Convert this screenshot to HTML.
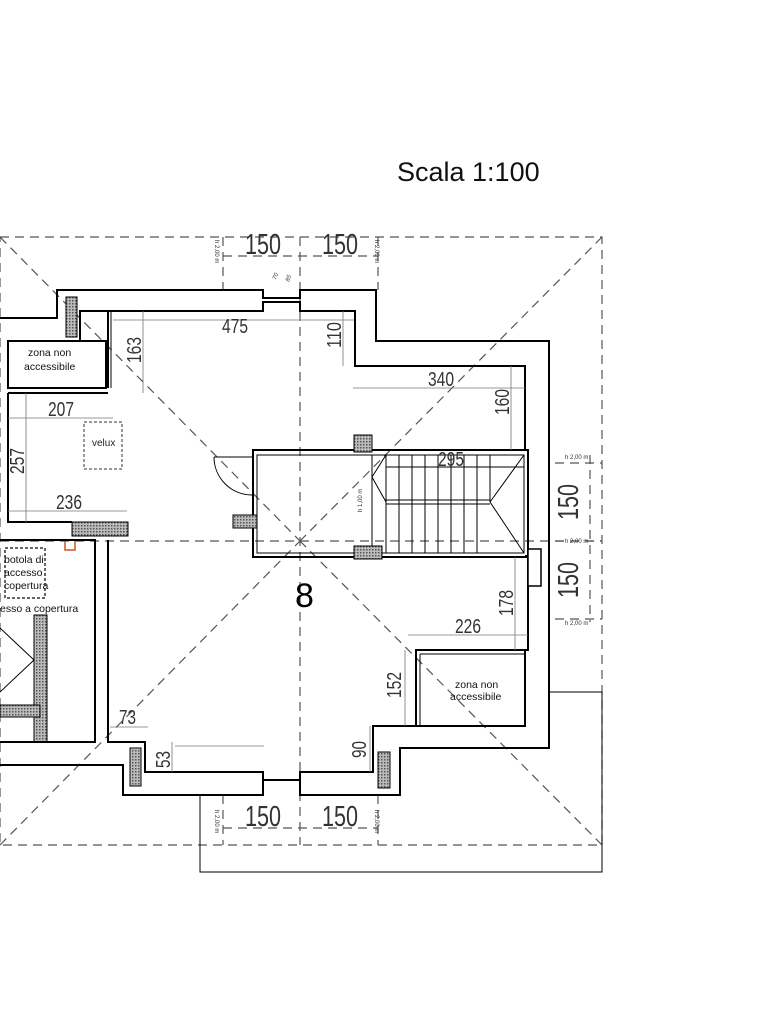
<!DOCTYPE html>
<html><head><meta charset="utf-8"><style>
html,body{margin:0;padding:0;background:#fff;}
svg{display:block;font-family:"Liberation Sans",sans-serif;}
.d{stroke:#555;stroke-width:1.2;stroke-dasharray:9 6;fill:none}
.w{stroke:#000;stroke-width:2;fill:none}
.t{stroke:#000;stroke-width:1;fill:none}
.g{stroke:#777;stroke-width:0.8;fill:none}
.dim{font-family:"Liberation Sans",sans-serif;fill:#333}
</style></head><body>
<svg width="768" height="1024" viewBox="0 0 768 1024">
<defs>
<pattern id="h" width="3" height="3" patternUnits="userSpaceOnUse"><rect width="3" height="3" fill="#bbb"/><rect width="1.5" height="1.5" fill="#555"/></pattern>
</defs>
<text x="397" y="181" font-size="27" fill="#111">Scala 1:100</text>

<rect x="0" y="237" width="602" height="608" class="d"/>
<line x1="0" y1="237" x2="300" y2="541" class="d"/>
<line x1="602" y1="237" x2="300" y2="541" class="d"/>
<line x1="0" y1="845" x2="300" y2="541" class="d"/>
<line x1="602" y1="845" x2="300" y2="541" class="d"/>
<line x1="300" y1="237" x2="300" y2="845" class="d"/>
<line x1="0" y1="541" x2="602" y2="541" class="d"/>
<line x1="223" y1="256" x2="378" y2="256" class="d" stroke-dasharray="4 3"/>
<line x1="223" y1="237" x2="223" y2="290" class="d" stroke-dasharray="5 4"/>
<line x1="378" y1="237" x2="378" y2="290" class="d" stroke-dasharray="5 4"/>
<g class="dim" font-size="29">
<text x="245" y="254" textLength="36" lengthAdjust="spacingAndGlyphs">150</text>
<text x="322" y="254" textLength="36" lengthAdjust="spacingAndGlyphs">150</text>
<text x="245" y="826" textLength="36" lengthAdjust="spacingAndGlyphs">150</text>
<text x="322" y="826" textLength="36" lengthAdjust="spacingAndGlyphs">150</text>
<text transform="translate(578,520) rotate(-90)" textLength="36" lengthAdjust="spacingAndGlyphs">150</text>
<text transform="translate(578,598) rotate(-90)" textLength="36" lengthAdjust="spacingAndGlyphs">150</text>
</g>
<line x1="223" y1="828" x2="378" y2="828" class="d" stroke-dasharray="4 3"/>
<line x1="223" y1="795" x2="223" y2="845" class="d" stroke-dasharray="5 4"/>
<line x1="378" y1="795" x2="378" y2="845" class="d" stroke-dasharray="5 4"/>
<line x1="590" y1="455" x2="590" y2="622" class="d" stroke-dasharray="5 4"/>
<line x1="555" y1="463" x2="602" y2="463" class="d" stroke-dasharray="4 3"/>
<line x1="555" y1="541" x2="602" y2="541" class="d" stroke-dasharray="4 3"/>
<line x1="555" y1="619" x2="602" y2="619" class="d" stroke-dasharray="4 3"/>
<g font-size="6" fill="#333">
<text x="565" y="459">h 2,00 m</text><text x="565" y="543">h 2,00 m</text><text x="565" y="625">h 2,00 m</text>
<text transform="translate(215,240) rotate(90)">h 2,00 m</text>
<text transform="translate(375,240) rotate(90)">h 2,00 m</text>
<text transform="translate(215,810) rotate(90)">h 2,00 m</text>
<text transform="translate(375,810) rotate(90)">h 2,00 m</text>
<text transform="translate(362,512) rotate(-90)">h 1,00 m</text>
<text transform="translate(276,280) rotate(-70)" font-style="italic">70</text>
<text transform="translate(289,282) rotate(-70)" font-style="italic">85</text>
</g>

<polyline points="549,692 602,692 602,872 200,872 200,795" class="t" stroke="#555"/>

<polyline class="w" points="0,318 57,318 57,290 263,290 263,298 300,298 300,290 376,290 376,341 549,341 549,748 400,748 400,795 300,795 300,780 263,780 263,795 123,795 123,765 0,765"/>
<polyline class="w" points="80,341 80,311 263,311 263,302 300,302 300,311 355,311 355,366 525,366 525,450"/>
<line x1="108" y1="311" x2="108" y2="388" class="w"/>
<line x1="111" y1="311" x2="111" y2="388" class="t"/>
<rect x="8" y="341" width="98" height="47" class="w"/>
<polyline class="w" points="8,393 108,393"/>
<polyline class="w" points="8,393 8,522 72,522"/>
<polyline class="w" points="108,540 108,742 145,742 145,772 263,772 263,780"/>
<polyline class="w" points="300,780 300,772 373,772 373,726 416,726"/>
<polyline class="w" points="525,556 528,556 528,650 416,650 416,726 525,726 525,650"/>
<line x1="420" y1="654" x2="420" y2="726" class="t"/>
<line x1="420" y1="654" x2="525" y2="654" class="t"/>
<rect x="253" y="450" width="275" height="107" class="w"/>
<rect x="257" y="455" width="267" height="98" class="t"/>
<rect x="372" y="455" width="152" height="98" class="t"/>
<g class="t" stroke-width="0.8">
<line x1="386" y1="455" x2="386" y2="553"/><line x1="399" y1="455" x2="399" y2="553"/><line x1="412" y1="455" x2="412" y2="553"/>
<line x1="425" y1="455" x2="425" y2="553"/><line x1="438" y1="455" x2="438" y2="553"/><line x1="451" y1="455" x2="451" y2="553"/>
<line x1="464" y1="455" x2="464" y2="553"/><line x1="477" y1="455" x2="477" y2="553"/><line x1="490" y1="455" x2="490" y2="502"/>
<line x1="386" y1="500" x2="490" y2="500"/><line x1="386" y1="504" x2="490" y2="504"/>
<line x1="490" y1="502" x2="524" y2="455"/><line x1="490" y1="502" x2="524" y2="553"/>
<line x1="372" y1="477" x2="386" y2="455"/><line x1="372" y1="477" x2="386" y2="502"/>
<line x1="386" y1="467" x2="524" y2="467"/>
</g>
<path d="M214,457 A38,38 0 0 0 252,495" class="t"/>
<line x1="214" y1="457" x2="252" y2="457" class="t"/>
<g fill="url(#h)" stroke="#000" stroke-width="1">
<rect x="66" y="297" width="11" height="40"/>
<rect x="72" y="522" width="56" height="14"/>
<rect x="233" y="515" width="24" height="13"/>
<rect x="354" y="435" width="18" height="17"/>
<rect x="354" y="546" width="28" height="13"/>
<rect x="130" y="748" width="11" height="38"/>
<rect x="378" y="752" width="12" height="36"/>
<rect x="34" y="615" width="13" height="127"/>
<rect x="0" y="705" width="40" height="12"/>
</g>
<rect x="528" y="549" width="13" height="37" fill="#fff" stroke="#000" stroke-width="1.5"/>
<rect x="65" y="540" width="10" height="10" fill="none" stroke="#c8561a" stroke-width="1.5"/>
<polyline class="w" points="0,540 95,540 95,742 0,742"/>
<polyline class="t" points="0,628 34,660 0,692"/>
<rect x="84" y="422" width="38" height="47" fill="none" stroke="#333" stroke-dasharray="3 2"/>
<text x="92" y="446" font-size="10" fill="#222">velux</text>
<rect x="5" y="548" width="40" height="50" fill="none" stroke="#333" stroke-width="1.5" stroke-dasharray="3 2"/>
<g font-size="10.5" fill="#111">
<text x="4" y="563">botola di</text><text x="4" y="576">accesso</text><text x="4" y="589">copertura</text>
<text x="0" y="612">esso a copertura</text>
<text x="28" y="356">zona non</text><text x="24" y="370">accessibile</text>
<text x="455" y="688">zona non</text><text x="450" y="700">accessibile</text>
</g>
<text x="295" y="607" font-size="34" fill="#000">8</text>
<g class="g">
<line x1="113" y1="320" x2="354" y2="320"/>
<line x1="143" y1="311" x2="143" y2="393"/>
<line x1="343" y1="311" x2="343" y2="366"/>
<line x1="353" y1="388" x2="525" y2="388"/>
<line x1="511" y1="366" x2="511" y2="450"/>
<line x1="8" y1="418" x2="113" y2="418"/>
<line x1="26" y1="393" x2="26" y2="522"/>
<line x1="8" y1="511" x2="127" y2="511"/>
<line x1="515" y1="557" x2="515" y2="650"/>
<line x1="408" y1="635" x2="528" y2="635"/>
<line x1="405" y1="650" x2="405" y2="726"/>
<line x1="110" y1="727" x2="148" y2="727"/>
<line x1="175" y1="746" x2="264" y2="746"/>
<line x1="172" y1="742" x2="172" y2="772"/>
<line x1="370" y1="726" x2="370" y2="772"/>
</g>
<g class="dim" font-size="20">
<text x="222" y="333" textLength="26" lengthAdjust="spacingAndGlyphs">475</text>
<text transform="translate(141,363) rotate(-90)" textLength="26" lengthAdjust="spacingAndGlyphs">163</text>
<text transform="translate(341,348) rotate(-90)" textLength="26" lengthAdjust="spacingAndGlyphs">110</text>
<text x="428" y="386" textLength="26" lengthAdjust="spacingAndGlyphs">340</text>
<text transform="translate(509,415) rotate(-90)" textLength="26" lengthAdjust="spacingAndGlyphs">160</text>
<text x="48" y="416" textLength="26" lengthAdjust="spacingAndGlyphs">207</text>
<text transform="translate(24,474) rotate(-90)" textLength="26" lengthAdjust="spacingAndGlyphs">257</text>
<text x="56" y="509" textLength="26" lengthAdjust="spacingAndGlyphs">236</text>
<text x="438" y="466" textLength="26" lengthAdjust="spacingAndGlyphs">295</text>
<text transform="translate(513,616) rotate(-90)" textLength="26" lengthAdjust="spacingAndGlyphs">178</text>
<text x="455" y="633" textLength="26" lengthAdjust="spacingAndGlyphs">226</text>
<text transform="translate(401,698) rotate(-90)" textLength="26" lengthAdjust="spacingAndGlyphs">152</text>
<text x="119" y="724" textLength="17" lengthAdjust="spacingAndGlyphs">73</text>
<text transform="translate(170,768) rotate(-90)" textLength="17" lengthAdjust="spacingAndGlyphs">53</text>
<text transform="translate(366,758) rotate(-90)" textLength="17" lengthAdjust="spacingAndGlyphs">90</text>
</g>
</svg>
</body></html>
